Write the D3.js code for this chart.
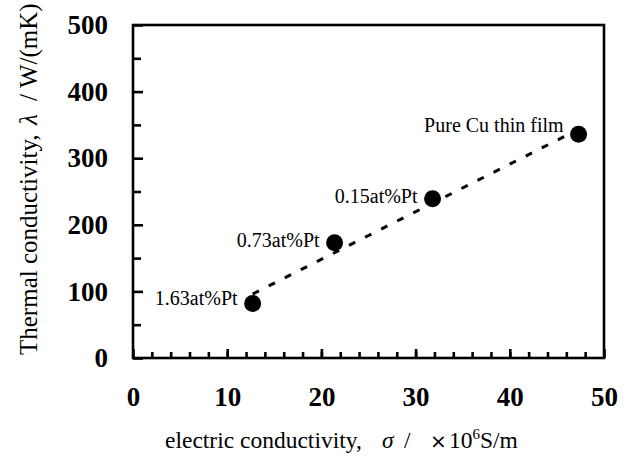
<!DOCTYPE html>
<html>
<head>
<meta charset="utf-8">
<script src="https://cdn.jsdelivr.net/npm/d3@7"></script>
<style>
  body { margin: 0; background: #fff; }
  svg text { font-family: "Liberation Serif", "Times New Roman", serif; fill: #000; }
  .tickLabel text { font-weight: bold; font-size: 27px; }
</style>
</head>
<body>
<script>
(function(){

	//data
	var samples = ["1.63at%Pt", "0.73at%Pt", "0.15at%Pt", "Pure Cu thin film"];
	var sigma = [12.7, 21.4, 31.8, 47.3];      //electric conductivity, x10^6 S/m
	var lambda = [82, 173, 239, 336];          //thermal conductivity, W/(mK)
	var xTicks = [0, 10, 20, 30, 40, 50];
	var yTicks = [0, 100, 200, 300, 400, 500];

	window.onload = setChart();

	function setChart(){
		var width = 633, height = 457;
		var left = 133, right = 604, top = 25, bottom = 358;

		var svg = d3.select("body")
			.append("svg")
			.attr("width", width)
			.attr("height", height);

		var x = d3.scaleLinear().domain([0, 50]).range([left, right]);
		var y = d3.scaleLinear().domain([0, 500]).range([bottom, top]);

		//minor ticks (no labels)
		svg.append("g")
			.attr("transform", "translate(0," + bottom + ")")
			.call(d3.axisBottom(x).tickValues(d3.range(2, 50, 2)).tickSize(-6).tickFormat(""))
			.call(styleAxis);
		svg.append("g")
			.attr("transform", "translate(" + left + ",0)")
			.call(d3.axisLeft(y).tickValues(d3.range(50, 500, 100)).tickSize(-8).tickFormat(""))
			.call(styleAxis);

		//major ticks with labels
		svg.append("g")
			.attr("class", "tickLabel")
			.attr("transform", "translate(0," + bottom + ")")
			.call(d3.axisBottom(x).tickValues(xTicks).tickSize(-9).tickPadding(29).tickFormat(d3.format("d")))
			.call(styleAxis);
		svg.append("g")
			.attr("class", "tickLabel")
			.attr("transform", "translate(" + left + ",0)")
			.call(d3.axisLeft(y).tickValues(yTicks).tickSize(-10).tickPadding(25).tickFormat(d3.format("d")))
			.call(styleAxis);

		//plot frame
		svg.append("rect")
			.attr("x", left)
			.attr("y", top)
			.attr("width", right - left)
			.attr("height", bottom - top)
			.attr("fill", "none")
			.attr("stroke", "#000")
			.attr("stroke-width", 2.6);

		//linear trend line (least squares through the points)
		var mx = d3.mean(sigma), my = d3.mean(lambda);
		var sxy = d3.sum(sigma, function(d, i){ return (d - mx) * (lambda[i] - my); });
		var sxx = d3.sum(sigma, function(d){ return (d - mx) * (d - mx); });
		var slope = sxy / sxx, icpt = my - slope * mx;
		var x0 = d3.min(sigma), x1 = d3.max(sigma);

		svg.append("line")
			.attr("x1", x(x0)).attr("y1", y(slope * x0 + icpt))
			.attr("x2", x(x1)).attr("y2", y(slope * x1 + icpt))
			.attr("stroke", "#000")
			.attr("stroke-width", 3)
			.attr("stroke-dasharray", "7,11");

		//points
		svg.selectAll(".dot")
			.data(sigma)
			.enter()
			.append("circle")
			.attr("class", "dot")
			.attr("cx", function(d){ return x(d); })
			.attr("cy", function(d, i){ return y(lambda[i]); })
			.attr("r", 8.5)
			.attr("fill", "#000");

		//point labels
		var labelDy = [2, 4, 4, -2];
		svg.selectAll(".lbl")
			.data(samples)
			.enter()
			.append("text")
			.attr("class", "lbl")
			.attr("x", function(d, i){ return x(sigma[i]) - 15; })
			.attr("y", function(d, i){ return y(lambda[i]) + labelDy[i]; })
			.attr("text-anchor", "end")
			.style("font-size", "20px")
			.text(function(d){ return d; });

		//x title
		var xt = svg.append("text")
			.attr("y", 448)
			.style("font-size", "23.5px");
		xt.append("tspan").attr("x", 165).text("electric conductivity,");
		xt.append("tspan").attr("x", 382).style("font-style", "italic").text("σ");
		xt.append("tspan").attr("x", 404).text("/");
		xt.append("tspan").attr("x", 430).style("font-family", "'DejaVu Sans', sans-serif").style("font-size", "20px").text("×");
		xt.append("tspan").attr("x", 449).text("10");
		xt.append("tspan").attr("dy", -9).style("font-size", "15px").text("6");
		xt.append("tspan").attr("dy", 9).text("S/m");

		//y title
		var yt = svg.append("text")
			.attr("transform", "translate(37,0) rotate(-90)")
			.style("font-size", "25px");
		yt.append("tspan").attr("x", -355).text("Thermal conductivity,");
		yt.append("tspan").attr("x", -125).style("font-style", "italic").text("λ");
		yt.append("tspan").attr("x", -101).text("/");
		yt.append("tspan").attr("x", -88).text("W/(mK)");
	};

	function styleAxis(g){
		g.select(".domain").remove();
		g.selectAll("line").attr("stroke", "#000").attr("stroke-width", 2.6);
		g.selectAll("text").attr("fill", "#000");
	};

})();
</script>
</body>
</html>
